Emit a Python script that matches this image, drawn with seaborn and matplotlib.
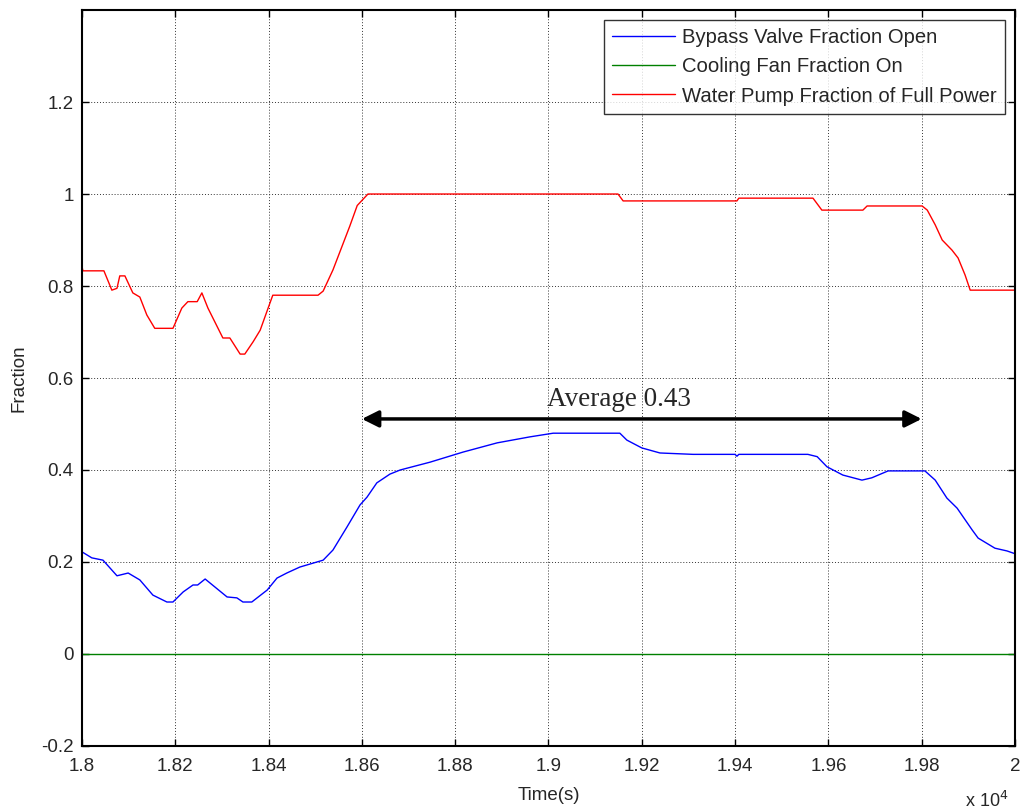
import numpy as np
import pandas as pd
import matplotlib
matplotlib.use("Agg")
import matplotlib.pyplot as plt
import seaborn as sns

# Bypass valve opening (fraction) over time
bypass_t = [18000, 18021, 18045, 18060, 18075, 18099, 18124, 18152, 18182, 18195,
            18217, 18238, 18248, 18264, 18311, 18332, 18345, 18364, 18397, 18418,
            18439, 18467, 18517, 18538, 18568, 18596, 18611, 18632, 18660, 18682,
            18746, 18817, 18890, 18960, 19010, 19153, 19168, 19200, 19239, 19310,
            19400, 19404, 19408, 19556, 19576, 19597, 19631, 19672, 19693, 19728,
            19807, 19829, 19854, 19876, 19908, 19921, 19957, 19983, 20000]
bypass_v = [0.222, 0.209, 0.204, 0.187, 0.170, 0.176, 0.161, 0.128, 0.113, 0.113,
            0.135, 0.150, 0.150, 0.163, 0.124, 0.122, 0.113, 0.113, 0.139, 0.165,
            0.176, 0.189, 0.204, 0.226, 0.276, 0.324, 0.341, 0.372, 0.391, 0.400,
            0.417, 0.439, 0.459, 0.472, 0.480, 0.480, 0.465, 0.448, 0.437, 0.434,
            0.434, 0.430, 0.434, 0.434, 0.429, 0.407, 0.389, 0.378, 0.383, 0.398,
            0.398, 0.378, 0.339, 0.317, 0.270, 0.252, 0.230, 0.224, 0.218]

# Cooling fan duty (fraction on)
fan_t = [18000, 20000]
fan_v = [0.0, 0.0]

# Water pump power (fraction of full power)
pump_t = [18000, 18002, 18047, 18064, 18075, 18081, 18092, 18109, 18124, 18139,
          18156, 18195, 18214, 18227, 18247, 18257, 18270, 18302, 18317, 18339,
          18349, 18367, 18382, 18399, 18409, 18506, 18517, 18538, 18574, 18590,
          18613, 19149, 19160, 19404, 19408, 19567, 19578, 19586, 19674, 19683,
          19801, 19812, 19829, 19844, 19865, 19878, 19893, 19904, 20000]
pump_v = [0.842, 0.833, 0.833, 0.791, 0.795, 0.822, 0.822, 0.785, 0.776, 0.737,
          0.708, 0.708, 0.752, 0.766, 0.766, 0.785, 0.752, 0.687, 0.687, 0.652,
          0.652, 0.679, 0.704, 0.752, 0.780, 0.780, 0.789, 0.835, 0.930, 0.975,
          1.000, 1.000, 0.985, 0.985, 0.991, 0.991, 0.976, 0.965, 0.965, 0.974,
          0.974, 0.965, 0.933, 0.900, 0.878, 0.861, 0.824, 0.791, 0.791]

series_names = ["Bypass Valve Fraction Open",
                "Cooling Fan Fraction On",
                "Water Pump Fraction of Full Power"]
series_colors = ["#0000FF", "#008000", "#FF0000"]

avg_label = "Average 0.43"
avg_span = [18600, 19800]
avg_y = 0.511
avg_label_x = 19150

x_ticks = [18000, 18200, 18400, 18600, 18800, 19000, 19200, 19400, 19600, 19800, 20000]
y_ticks = [-0.2, 0.0, 0.2, 0.4, 0.6, 0.8, 1.0, 1.2]

sns.set_style("white")
plt.rcParams["font.family"] = ["Liberation Sans", "DejaVu Sans"]

fig = plt.figure(figsize=(10.21, 8.09), dpi=100)
ax = fig.add_axes([0.0803, 0.0779, 0.9138, 0.9097])

frames = [
    pd.DataFrame({"t": bypass_t, "v": bypass_v, "s": series_names[0]}),
    pd.DataFrame({"t": fan_t, "v": fan_v, "s": series_names[1]}),
    pd.DataFrame({"t": pump_t, "v": pump_v, "s": series_names[2]}),
]
for df, name, col in zip(frames, series_names, series_colors):
    sns.lineplot(data=df, x="t", y="v", ax=ax, color=col, lw=1.0,
                 estimator=None, sort=False, label=name)

ax.set_xlim(18000, 20000)
ax.set_ylim(-0.2, 1.4)
ax.set_xticks(x_ticks)
ax.set_xticklabels(["%g" % (t / 1e4) for t in x_ticks])
ax.set_yticks(y_ticks)
ax.set_yticklabels(["%g" % round(v, 1) for v in y_ticks])

ax.grid(True, color="#333333", linestyle=(0, (1, 2)), linewidth=0.7)
ax.tick_params(axis="both", direction="in", length=5, width=1.0, labelsize=13.5,
               top=True, right=True, bottom=True, left=True, color="black")
ax.tick_params(axis="x", pad=9)
ax.tick_params(axis="y", pad=6)
for sp in ax.spines.values():
    sp.set_color("black")
    sp.set_linewidth(1.5)

ax.set_xlabel("Time(s)", fontsize=13.5, labelpad=8)
ax.set_ylabel("Fraction", fontsize=13.5, labelpad=10)
fig.text(0.945, -0.002, "x 10$^4$", fontsize=13, ha="left", va="bottom")

# Double arrow marking the averaging window
ax.annotate("", xy=(avg_span[0], avg_y), xytext=(avg_span[1], avg_y),
            arrowprops=dict(arrowstyle="<|-|>", color="black", lw=2.5,
                            mutation_scale=25, shrinkA=0, shrinkB=0))
ax.text(avg_label_x, avg_y + 0.015, avg_label, ha="center", va="bottom",
        fontsize=19.5, family=["Liberation Serif", "DejaVu Serif"])

leg = ax.legend(loc="upper right", fontsize=14.6, frameon=True, fancybox=False,
                handlelength=3.1, borderaxespad=0.5, borderpad=0.4,
                labelspacing=0.5, handletextpad=0.35)
leg.get_frame().set_edgecolor("black")
leg.get_frame().set_linewidth(1.0)
for h in leg.get_lines():
    h.set_linewidth(1.0)

fig.savefig("out.png", dpi=100)
